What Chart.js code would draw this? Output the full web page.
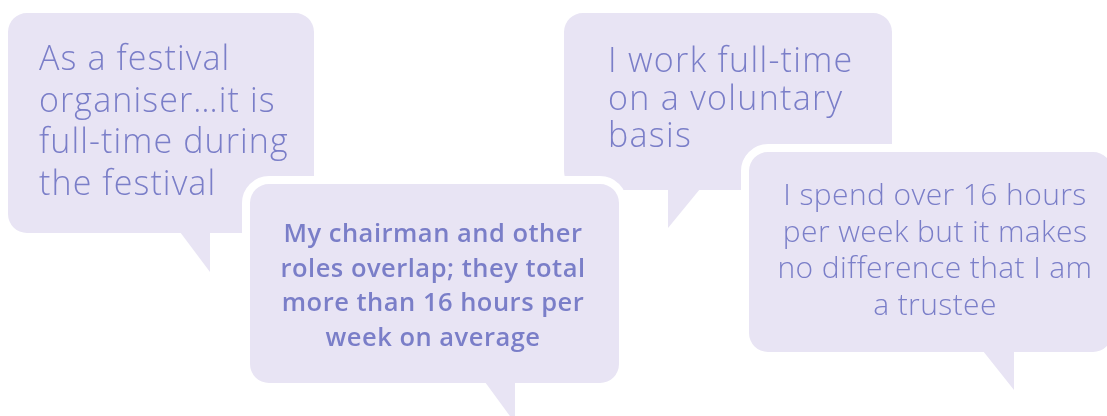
<!DOCTYPE html>
<html>
<head>
<meta charset="utf-8">
<script src="https://cdn.jsdelivr.net/npm/chart.js@4.4.1/dist/chart.umd.min.js"></script>
<style>
  html, body { margin: 0; padding: 0; background: #ffffff; }
  #wrap { width: 1107px; height: 416px; position: relative; }
</style>
</head>
<body>
<div id="wrap"><canvas id="quotesChart"></canvas></div>
<script>
// quotes, one list of lines per bubble (drawing order: back to front)
const quotes = [
    ["As a festival", "organiser…it is", "full-time during", "the festival"],
    ["I work full-time", "on a voluntary", "basis"],
    ["My chairman and other", "roles overlap; they total", "more than 16 hours per", "week on average"],
    ["I spend over 16 hours", "per week but it makes", "no difference that I am", "a trustee"]
];
// bubble anchor (top-left corner) on the x / y scales
const bubbleX = [8, 564, 250, 749];
const bubbleY = [13, 13, 184, 152];

// layout: box size, tail, text placement (scale units)
const bubbleSize = [[306, 220], [328, 177], [369, 199], [363, 200]];
// tail: [baseLeft, baseRight, tipX, tipDrop] relative to box left / bottom
const bubbleTail = [[172, 202, 202, 39], [104, 136, 104, 38], [235, 265, 265, 40], [234, 265, 265, 38]];
const textStyle = [
    { align: 'left',   x: 31,  y: 57, lh: 41.7, size: 34,   weight: 300, ls: 1.1 },
    { align: 'left',   x: 44,  y: 59, lh: 37.5, size: 34,   weight: 300, ls: 1.3 },
    { align: 'center', x: 183, y: 58, lh: 34.5, size: 25.5, weight: 600, ls: 0.5 },
    { align: 'center', x: 186, y: 53, lh: 36.7, size: 30,   weight: 300, ls: 0.4 }
];

const FILL = '#e8e4f4';
const INK = '#7a7ec8';
const RADIUS = 19;

const bubblePlugin = {
    id: 'speechBubbles',
    afterDatasetsDraw: function(chart) {
        var ctx = chart.ctx;
        var meta = chart.getDatasetMeta(0);
        var xs = chart.scales.x, ys = chart.scales.y;
        meta.data.forEach(function(pt, i) {
            var x0 = pt.x, y0 = pt.y;
            var w = xs.getPixelForValue(bubbleX[i] + bubbleSize[i][0]) - x0;
            var h = ys.getPixelForValue(bubbleY[i] + bubbleSize[i][1]) - y0;
            var t = bubbleTail[i];

            ctx.save();
            ctx.beginPath();
            ctx.roundRect(x0, y0, w, h, RADIUS);
            ctx.moveTo(x0 + t[0], y0 + h - 1);
            ctx.lineTo(x0 + t[1], y0 + h - 1);
            ctx.lineTo(x0 + t[2], y0 + h + t[3]);
            ctx.closePath();
            // white halo over whatever sits behind
            ctx.lineWidth = 16;
            ctx.lineJoin = 'round';
            ctx.strokeStyle = '#ffffff';
            ctx.stroke();
            ctx.fillStyle = FILL;
            ctx.fill();

            var s = textStyle[i];
            ctx.fillStyle = INK;
            ctx.font = s.weight + ' ' + s.size + 'px "Open Sans", Lato, sans-serif';
            ctx.letterSpacing = s.ls + 'px';
            ctx.textAlign = s.align;
            ctx.textBaseline = 'alphabetic';
            quotes[i].forEach(function(line, j) {
                ctx.fillText(line, x0 + s.x, y0 + s.y + j * s.lh);
            });
            ctx.restore();
        });
    }
};

new Chart(document.getElementById('quotesChart'), {
    type: 'scatter',
    data: {
        datasets: [{
            data: bubbleX.map(function(x, i) { return { x: x, y: bubbleY[i] }; }),
            pointRadius: 0,
            pointHoverRadius: 0
        }]
    },
    options: {
        responsive: true,
        maintainAspectRatio: false,
        animation: false,
        layout: { padding: 0 },
        scales: {
            x: { type: 'linear', min: 0, max: 1107, display: false },
            y: { type: 'linear', min: 0, max: 416, reverse: true, display: false }
        },
        plugins: {
            legend: { display: false },
            tooltip: { enabled: false }
        }
    },
    plugins: [bubblePlugin]
});
</script>
</body>
</html>
